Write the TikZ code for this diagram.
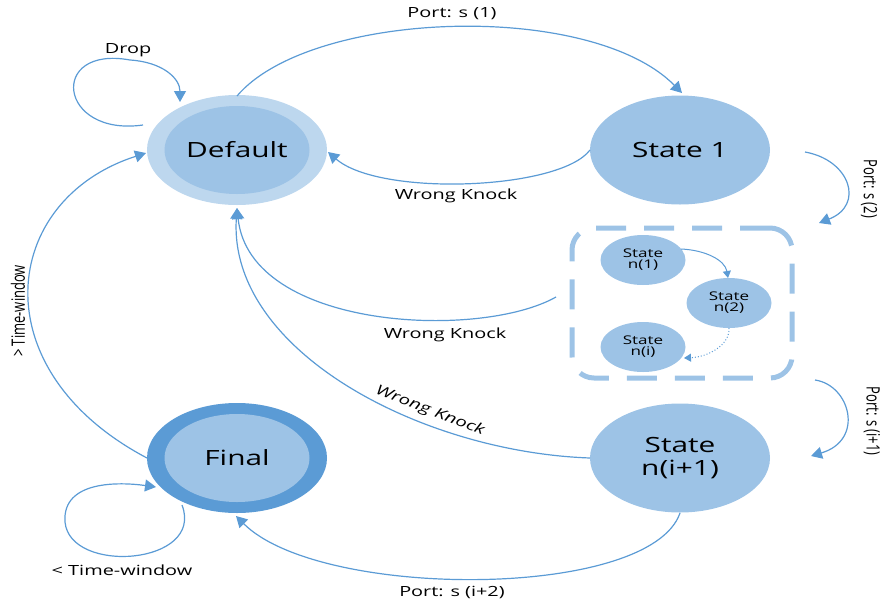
\documentclass[tikz,border=0pt]{standalone}
\usepackage{fontspec}
\setmainfont{Open Sans}
\usepackage{graphicx}
\usetikzlibrary{arrows.meta,shapes.geometric}
\definecolor{lineblue}{HTML}{5B9BD5}
\definecolor{fillmid}{HTML}{9DC3E6}
\definecolor{filllight}{HTML}{BDD7EE}
\newcommand{\sxh}[1]{\scalebox{1.42}[1]{#1}}
\newcommand{\sxv}[1]{\scalebox{1}[1.42]{#1}}
\tikzset{
  bigstate/.style={ellipse, fill=fillmid, minimum width=180pt, minimum height=109pt, inner sep=0pt, align=center, font=\fontsize{21}{25}\selectfont},
  outerring/.style={ellipse, minimum width=180pt, minimum height=110pt, inner sep=0pt},
  innerstate/.style={ellipse, fill=fillmid, minimum width=145pt, minimum height=88pt, inner sep=0pt, font=\fontsize{21}{25}\selectfont},
  smallstate/.style={ellipse, fill=fillmid, minimum width=85pt, minimum height=50pt, inner sep=0pt, align=center, font=\fontsize{12}{14}\selectfont},
  conn/.style={draw=lineblue, line width=1.2pt, -{Triangle[length=11pt,width=12pt]}},
  smallconn/.style={draw=lineblue, line width=1pt, -{Triangle[length=7pt,width=8pt]}},
  lbl/.style={font=\fontsize{14}{16}\selectfont, inner sep=1pt},
  vlbl/.style={font=\fontsize{13}{15}\selectfont, inner sep=1pt},
  dashbox/.style={draw=fillmid, line width=5pt, rounded corners=22pt, dash pattern=on 30pt off 18pt}
}
\begin{document}
\begin{tikzpicture}[x=1pt,y=-1pt]
\useasboundingbox (0,0) rectangle (889,603);
% states
\node[outerring, fill=filllight] (def) at (237,150) {};
\node[innerstate] (defin) at (237,150) {\sxh{Default}};
\node[bigstate] (s1) at (680,150) {\sxh{State 1}};
\node[outerring, fill=lineblue] (fin) at (237,458) {};
\node[innerstate] (finin) at (237,458) {\sxh{Final}};
\node[bigstate] (ni1) at (680,458) {\sxh{State}\\[-2pt]\sxh{n(i+1)}};
% dashed group
\node[dashbox, minimum width=220pt, minimum height=150pt, inner sep=0pt] (grp) at (682,303) {};
\node[smallstate] (n1) at (643,260) {\sxh{State}\\[-3pt]\sxh{n(1)}};
\node[smallstate] (n2) at (729,303) {\sxh{State}\\[-3pt]\sxh{n(2)}};
\node[smallstate] (ni) at (643,347) {\sxh{State}\\[-3pt]\sxh{n(i)}};
\coordinate (n1a) at (681,249);
\coordinate (n2a) at (728,278);
\coordinate (n2b) at (729,328);
\coordinate (nia) at (684,358);
\draw[smallconn] (n1a) .. controls (705,250) and (725,260) .. (n2a);
\draw[smallconn, dotted] (n2b) .. controls (730,345) and (708,357) .. (nia);
% coordinates on borders
\coordinate (defT) at (237,96);
\coordinate (s1T) at (682,93);
\coordinate (s1W) at (590,150);
\coordinate (defE) at (328,152);
\coordinate (defB) at (237,208);
\coordinate (defW) at (146,153);
\coordinate (grpW) at (556,297);
\coordinate (ni1W) at (590,458);
\coordinate (ni1S) at (680,513);
\coordinate (finS) at (236,516);
\coordinate (finW) at (147,458);
% Port s(1)
\draw[conn] (defT) .. controls (310,10) and (590,0) .. (s1T);
\node[lbl] (p1) at (452,14) {\sxh{Port: s (1)}};
% Wrong knock s1 -> default
\draw[conn] (s1W) .. controls (560,190) and (380,197) .. (defE);
\node[lbl] (wk1) at (456,196) {\sxh{Wrong Knock}};
% Drop loop
\coordinate (dropS) at (143,125);
\coordinate (dropE) at (180,102);
\draw[conn] (dropS) .. controls (58,137) and (48,45) .. (130,60) .. controls (162,62) and (180,78) .. (dropE);
\node[lbl] (drop) at (128,50) {\sxh{Drop}};
% Port s(2)
\coordinate (p2S) at (805,152);
\coordinate (p2E) at (819,223);
\draw[conn] (p2S) .. controls (850,160) and (865,205) .. (p2E);
\node[vlbl, rotate=-90] (p2) at (869,189) {\sxv{Port: s (2)}};
% Wrong knock group -> default
\draw[conn] (grpW) .. controls (480,340) and (250,330) .. (defB);
\node[lbl] (wk2) at (445,335) {\sxh{Wrong Knock}};
% Wrong knock n(i+1) -> default
\draw[conn] (ni1W) .. controls (420,452) and (228,350) .. (defB);
\node[lbl, rotate=-21] (wk3) at (430,411) {\sxh{\itshape Wrong Knock}};
% Port s(i+1)
\coordinate (p3S) at (815,380);
\coordinate (p3E) at (811,456);
\draw[conn] (p3S) .. controls (850,385) and (865,440) .. (p3E);
\node[vlbl, rotate=-90] (p3) at (872,421) {\sxv{Port: s (i+1)}};
% Port s(i+2)
\draw[conn] (ni1S) .. controls (650,600) and (320,600) .. (finS);
\node[lbl] (p4) at (452,592) {\sxh{Port: s (i+2)}};
% > Time-window
\draw[conn] (finW) .. controls (-20,370) and (0,200) .. (defW);
\node[vlbl, rotate=90] (tw1) at (18,311) {\sxv{> Time-window}};
% < Time-window loop
\coordinate (twS) at (182,505);
\coordinate (twE) at (156,487);
\draw[conn] (twS) .. controls (205,565) and (70,575) .. (65,522) .. controls (62,480) and (120,482) .. (twE);
\node[lbl] (tw2) at (122,570) {\sxh{< Time-window}};
\end{tikzpicture}
\end{document}
